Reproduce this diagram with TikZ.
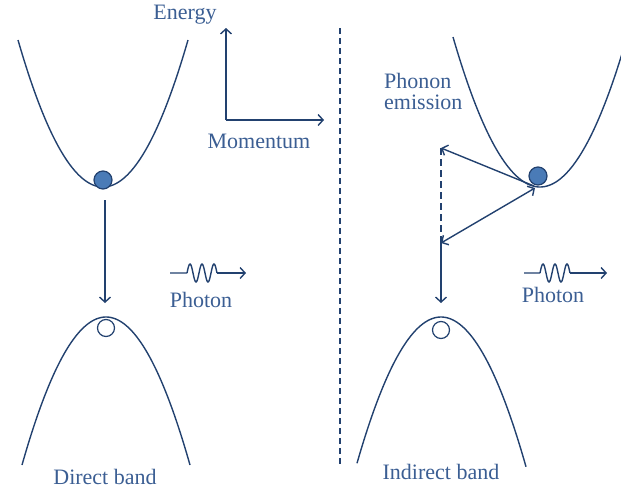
\documentclass[tikz,border=0pt]{standalone}
\usepackage{fontspec}
\setmainfont{Liberation Serif}
\usetikzlibrary{arrows.meta}
\definecolor{lineblue}{HTML}{22416F}
\definecolor{textblue}{HTML}{3B5E93}
\definecolor{ballblue}{HTML}{4A7BB7}
\begin{document}
\begin{tikzpicture}[x=1pt,y=-1pt,
  band/.style={draw=lineblue,line width=1.4pt},
  conn/.style={draw=lineblue,line width=1.4pt,-{Straight Barb[length=5pt,width=11pt,line width=1.4pt]}},
  lbl/.style={text=textblue,font=\fontsize{22}{24}\selectfont,inner sep=0pt},
  ball/.style={circle,draw=lineblue,fill=ballblue,line width=1.2pt,minimum size=18pt,inner sep=0pt},
  hole/.style={circle,draw=lineblue,fill=white,line width=1.2pt,minimum size=17pt,inner sep=0pt}]
\useasboundingbox (0,0) rectangle (621,490);
% bands
\draw[band] plot[domain=18:188,samples=80,smooth] (\x,{187-147*((\x-103)/85)^2});
\draw[band] plot[domain=22:190,samples=80,smooth] (\x,{317+148*((\x-106)/84)^2});
\draw[band] plot[domain=453:622,samples=80,smooth] (\x,{187-150*((\x-540)/87)^2});
\draw[band] plot[domain=357:526,samples=80,smooth] (\x,{317+148*((\x-441)/84.5)^2});
% particles
\node[ball] (e1) at (103,180) {};
\node[hole] (h1) at (106,328) {};
\node[ball] (e2) at (538,176) {};
\node[hole] (h2) at (441,330) {};
% centre divider
\coordinate (d1) at (340,28);
\coordinate (d2) at (340,465);
\draw[lineblue,line width=1.4pt,dash pattern=on 6pt off 4pt] (d1) -- (d2);
% axes
\coordinate (o) at (226,120);
\coordinate (ey) at (226,28);
\coordinate (mx) at (324,120);
\draw[conn] (o) -- (ey);
\draw[conn] (o) -- (mx);
\node[lbl] (energy) at (185,15) {Energy};
\node[lbl] (momentum) at (259,141) {Momentum};
% direct transition
\coordinate (a1) at (105,200);
\coordinate (a2) at (105,303);
\draw[conn] (a1) -- (a2);
% indirect transition
\coordinate (b0) at (534,186);
\coordinate (b1) at (441,148);
\coordinate (b2) at (441,243);
\coordinate (b3) at (441,303);
\coordinate (b4) at (535,188);
\draw[conn] (b0) -- (b1);
\draw[lineblue,line width=1.4pt,dash pattern=on 7pt off 4pt] (b1) -- (b2);
\draw[draw=lineblue,line width=1.4pt,{Straight Barb[length=5pt,width=11pt,line width=1.4pt]}-{Straight Barb[length=5pt,width=11pt,line width=1.4pt]}] (b2) -- (b4);
\draw[conn] (b2) -- (b3);
\node[lbl,align=left,anchor=west] (phonon) at (384,91) {Phonon\\[-3pt]emission};
% photons
\coordinate (p1s) at (170,273);
\coordinate (p1w) at (187,273);
\coordinate (p1e) at (217,273);
\coordinate (p1t) at (246,273);
\draw[band] (p1s) -- (p1w) plot[domain=0:30,samples=60,smooth] ({187+\x},{273-9*sin(\x*30)}) -- (p1e);
\draw[conn] (p1e) -- (p1t);
\node[lbl] (photon1) at (201,300) {Photon};
\coordinate (p2s) at (524,273);
\coordinate (p2w) at (540,273);
\coordinate (p2e) at (570,273);
\coordinate (p2t) at (607,273);
\draw[band] (p2s) -- (p2w) plot[domain=0:30,samples=60,smooth] ({540+\x},{273-9*sin(\x*30)}) -- (p2e);
\draw[conn] (p2e) -- (p2t);
\node[lbl] (photon2) at (553,295) {Photon};
% captions
\node[lbl] (direct) at (105,477) {Direct band};
\node[lbl] (indirect) at (441,472) {Indirect band};
\end{tikzpicture}
\end{document}
